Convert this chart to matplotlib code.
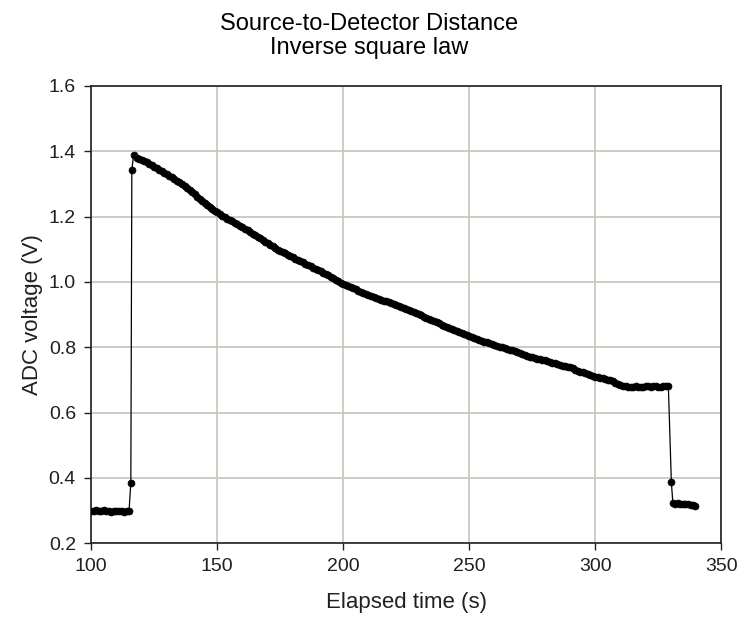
import numpy as np
import matplotlib
matplotlib.use("Agg")
import matplotlib.pyplot as plt

# ---- data ----
base_time = list(range(100, 116))
base_volt = [0.300, 0.300, 0.301, 0.300, 0.300, 0.301, 0.300, 0.298,
             0.297, 0.299, 0.300, 0.300, 0.299, 0.297, 0.299, 0.300]

rise_time = [115.7, 116.1, 116.8]
rise_volt = [0.385, 1.344, 1.387]

decay_time = list(range(118, 330))
decay_volt = [
    1.380, 1.376, 1.373, 1.370, 1.366, 1.362, 1.357, 1.353, 1.349, 1.344,  # 118-127
    1.339, 1.334, 1.329, 1.325, 1.320, 1.315, 1.310, 1.305, 1.299, 1.293,  # 128-137
    1.287, 1.281, 1.274, 1.268, 1.261, 1.254, 1.247, 1.241, 1.235, 1.229,  # 138-147
    1.223, 1.218, 1.213, 1.208, 1.203, 1.199, 1.194, 1.189, 1.185, 1.180,  # 148-157
    1.176, 1.171, 1.167, 1.163, 1.158, 1.153, 1.148, 1.143, 1.138, 1.133,  # 158-167
    1.128, 1.123, 1.118, 1.114, 1.109, 1.104, 1.099, 1.095, 1.091, 1.087,  # 168-177
    1.083, 1.079, 1.075, 1.071, 1.067, 1.064, 1.060, 1.056, 1.052, 1.048,  # 178-187
    1.044, 1.040, 1.036, 1.032, 1.028, 1.024, 1.020, 1.015, 1.011, 1.007,  # 188-197
    1.003, 0.998, 0.994, 0.991, 0.987, 0.984, 0.980, 0.977, 0.973, 0.970,  # 198-207
    0.967, 0.964, 0.961, 0.958, 0.955, 0.952, 0.948, 0.945, 0.942, 0.940,  # 208-217
    0.937, 0.934, 0.931, 0.929, 0.926, 0.923, 0.921, 0.918, 0.915, 0.912,  # 218-227
    0.908, 0.905, 0.902, 0.898, 0.894, 0.890, 0.886, 0.883, 0.879, 0.876,  # 228-237
    0.873, 0.869, 0.866, 0.862, 0.859, 0.856, 0.853, 0.850, 0.847, 0.844,  # 238-247
    0.841, 0.838, 0.835, 0.832, 0.829, 0.826, 0.823, 0.820, 0.817, 0.815,  # 248-257
    0.812, 0.810, 0.807, 0.805, 0.802, 0.800, 0.797, 0.795, 0.792, 0.790,  # 258-267
    0.787, 0.784, 0.782, 0.779, 0.776, 0.774, 0.771, 0.769, 0.767, 0.765,  # 268-277
    0.763, 0.761, 0.760, 0.758, 0.756, 0.753, 0.751, 0.748, 0.746, 0.744,  # 278-287
    0.742, 0.740, 0.738, 0.735, 0.731, 0.728, 0.725, 0.723, 0.720, 0.718,  # 288-297
    0.715, 0.713, 0.710, 0.708, 0.706, 0.705, 0.703, 0.701, 0.699, 0.696,  # 298-307
    0.692, 0.688, 0.684, 0.682, 0.680, 0.679, 0.679, 0.679, 0.680, 0.679,  # 308-317
    0.679, 0.679, 0.680, 0.680, 0.679, 0.680, 0.680, 0.679, 0.679, 0.680,  # 318-327
    0.680, 0.681,                                                          # 328-329
]

fall_time = [330.2]
fall_volt = [0.387]

tail_time = [330.8, 331.8, 332.8, 333.8, 334.8, 335.8, 336.8, 337.8, 338.8, 339.7]
tail_volt = [0.322, 0.321, 0.322, 0.321, 0.320, 0.321, 0.320, 0.318, 0.316, 0.315]

time_s = np.array(base_time + rise_time + decay_time + fall_time + tail_time, dtype=float)
volt_v = np.array(base_volt + rise_volt + decay_volt + fall_volt + tail_volt, dtype=float)

x_ticks = [100, 150, 200, 250, 300, 350]
y_ticks = [0.2, 0.4, 0.6, 0.8, 1.0, 1.2, 1.4, 1.6]

title_text = "Source-to-Detector Distance\nInverse square law"
x_label = "Elapsed time (s)"
y_label = "ADC voltage (V)"

# ---- figure ----
plt.rcParams['font.family'] = ['Liberation Sans', 'DejaVu Sans']

fig = plt.figure(figsize=(7.39, 6.18), dpi=100)
ax = fig.add_axes([0.1235, 0.121, 0.8525, 0.740])

ax.plot(time_s, volt_v, color='black', linewidth=0.9, marker='o',
        markersize=5.0, markerfacecolor='black', markeredgecolor='black',
        markeredgewidth=0.5, zorder=3)

ax.set_xlim(100, 350)
ax.set_ylim(0.2, 1.6)
ax.set_xticks(x_ticks)
ax.set_yticks(y_ticks)
ax.set_xticklabels([str(v) for v in x_ticks])
ax.set_yticklabels([f"{v:.1f}" for v in y_ticks])

ax.grid(True, color='#c8c8c0', linewidth=1.3, zorder=0)
ax.set_axisbelow(True)

for s in ax.spines.values():
    s.set_color('#202020')
    s.set_linewidth(1.2)

ax.tick_params(axis='both', direction='out', length=5, width=1.0,
               color='#202020', labelsize=14, labelcolor='#202020', pad=6)

ax.set_xlabel(x_label, fontsize=16, color='#202020', labelpad=12)
ax.set_ylabel(y_label, fontsize=16, color='#202020', labelpad=4)

fig.text(0.5, 0.942, title_text, ha='center', va='center', fontsize=17,
         color='black', linespacing=1.15)

fig.savefig("out.png", dpi=100)
